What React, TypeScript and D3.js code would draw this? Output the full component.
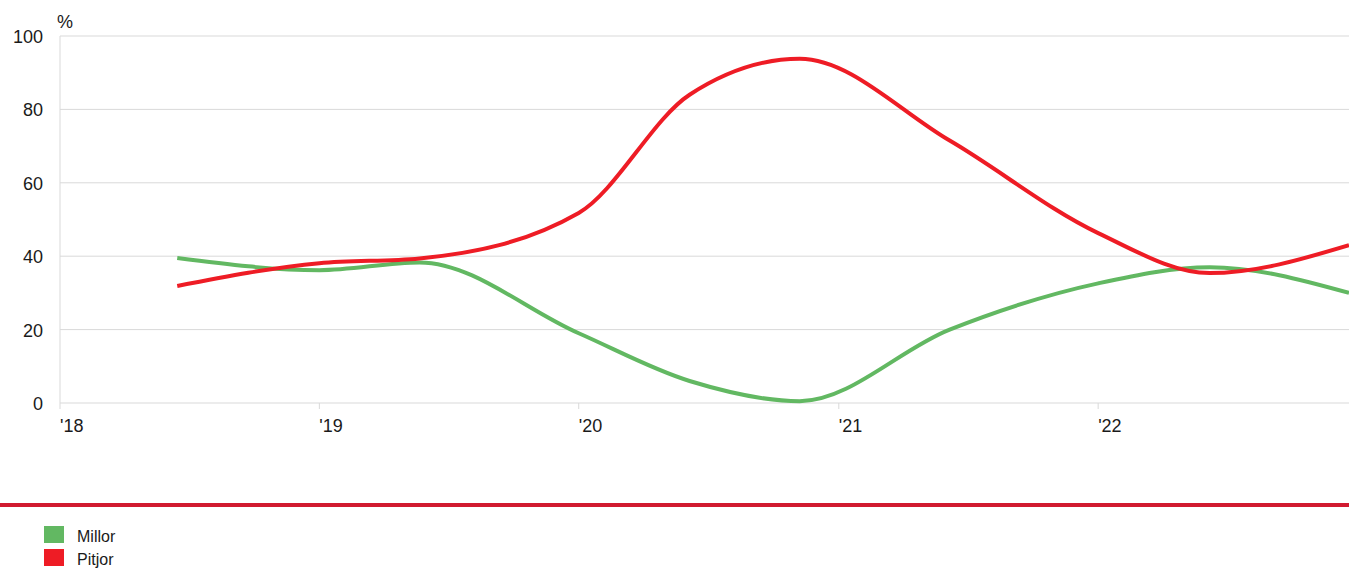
import React from "react";
import * as d3 from "d3";

const dates = [
  "2018-06-15",
  "2019-01-01",
  "2019-05-22",
  "2020-01-01",
  "2020-06-05",
  "2020-11-07",
  "2021-06-06",
  "2022-01-01",
  "2022-06-07",
  "2022-12-20",
];
const millor = [39.5, 36.2, 38.3, 19, 6, 0.5, 20, 32.6, 37, 30];
const pitjor = [31.9, 38.1, 39.4, 51.8, 84, 93.8, 71.5, 46.3, 35.4, 43];
const yTicks = [0, 20, 40, 60, 80, 100];
const xTickDates = ["2018-01-01", "2019-01-01", "2020-01-01", "2021-01-01", "2022-01-01"];
const xTickLabels = ["'18", "'19", "'20", "'21", "'22"];
const seriesNames = ["Millor", "Pitjor"];
const seriesColors = ["#62b862", "#ee1c25"];

const W = 1349;
const H = 569;
const left = 60;
const right = 1349;
const top = 36;
const bottom = 403;

export default function App() {
  const parse = d3.timeParse("%Y-%m-%d");
  const x = d3
    .scaleTime()
    .domain([parse("2018-01-01") as Date, parse("2022-12-20") as Date])
    .range([left, right]);
  const y = d3.scaleLinear().domain([0, 100]).range([bottom, top]);
  const pts = dates.map((d) => parse(d) as Date);
  const line = d3
    .line<number>()
    .x((_, i) => x(pts[i]))
    .y((v) => y(v))
    .curve(d3.curveMonotoneX);
  const series = [millor, pitjor];
  const font = "Arial, 'Liberation Sans', Helvetica, sans-serif";

  return (
    <svg
      width={W}
      height={H}
      style={{ position: "absolute", left: 0, top: 0, fontFamily: font }}
    >
      <rect x={0} y={0} width={W} height={H} fill="#fff" />
      {yTicks.map((t) => (
        <g key={t}>
          <line x1={left} x2={right} y1={y(t)} y2={y(t)} stroke="#d9d9d9" strokeWidth={1} />
          <text x={43} y={y(t) + 7} textAnchor="end" fontSize={18} fill="#1a1a1a">
            {t}
          </text>
        </g>
      ))}
      <line x1={left} x2={left} y1={top} y2={bottom} stroke="#d9d9d9" strokeWidth={1} />
      <text x={57} y={28} fontSize={18} fill="#1a1a1a">%</text>
      {xTickDates.map((d, i) => {
        const xx = x(parse(d) as Date);
        return (
          <g key={d}>
            <line x1={xx} x2={xx} y1={bottom} y2={bottom + 6} stroke="#d9d9d9" strokeWidth={1} />
            <text x={xx} y={432} fontSize={18} fill="#1a1a1a">
              {xTickLabels[i]}
            </text>
          </g>
        );
      })}
      {series.map((s, i) => (
        <path
          key={i}
          d={line(s) || ""}
          fill="none"
          stroke={seriesColors[i]}
          strokeWidth={4}
          strokeLinejoin="round"
          strokeLinecap="butt"
        />
      ))}
      <rect x={0} y={503} width={W} height={4} fill="#d11a30" />
      {seriesNames.map((n, i) => (
        <g key={n}>
          <rect x={44} y={526 + i * 23} width={20} height={17} fill={seriesColors[i]} />
          <text x={77} y={542 + i * 23} fontSize={16} fill="#1a1a1a">
            {n}
          </text>
        </g>
      ))}
    </svg>
  );
}
